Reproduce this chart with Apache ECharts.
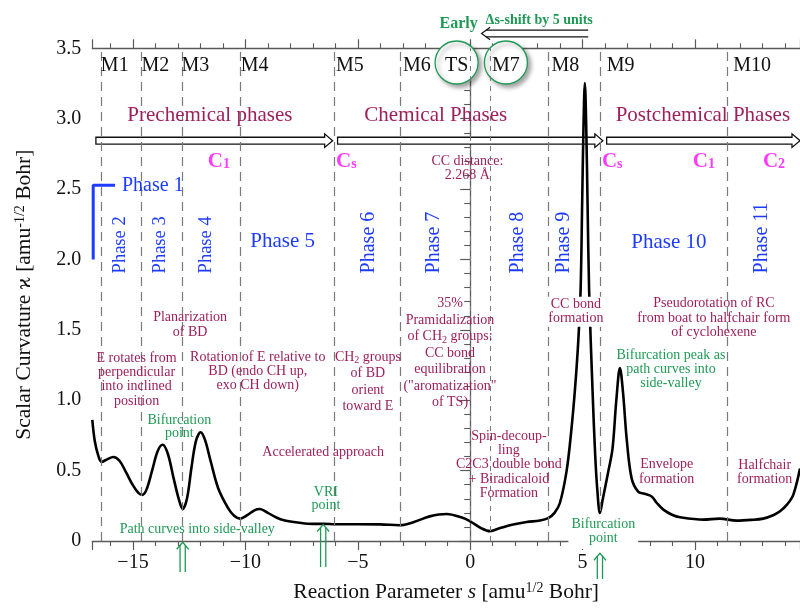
<!DOCTYPE html>
<html>
<head>
<meta charset="utf-8">
<script src="https://cdn.jsdelivr.net/npm/echarts@6/dist/echarts.min.js"></script>
<style>
  html, body { margin: 0; padding: 0; background: #fff; }
  #chart { width: 800px; height: 608px; }
</style>
</head>
<body>
<div id="chart"></div>
<script>
// Scalar curvature along the reaction path
const sValues = [-16.81,-16.70,-16.55,-16.40,-16.15,-15.88,-15.60,-15.30,-15.00,-14.75,
  -14.59,-14.40,-14.15,-13.90,-13.68,-13.45,-13.20,-12.95,-12.79,-12.60,
  -12.40,-12.20,-11.99,-11.80,-11.55,-11.21,-10.77,-10.50,-10.24,-9.90,
  -9.60,-9.36,-9.00,-8.60,-8.24,-7.60,-7.00,-6.50,-6.00,-5.00,
  -4.00,-3.13,-2.50,-1.80,-1.05,-0.40,0.00,0.50,0.88,1.30,
  1.91,2.51,3.10,3.47,3.75,3.99,4.29,4.50,4.66,4.80,
  4.91,4.98,5.04,5.10,5.16,5.22,5.29,5.44,5.56,5.66,
  5.77,5.90,6.14,6.33,6.50,6.66,6.80,6.96,7.18,7.47,
  7.75,8.07,8.30,8.59,9.00,9.33,10.37,11.10,11.85,12.50,
  13.03,13.50,13.78,14.10,14.37,14.67];
const kappaValues = [0.86,0.71,0.61,0.562,0.580,0.597,0.570,0.485,0.395,0.340,
  0.328,0.365,0.500,0.640,0.684,0.620,0.450,0.290,0.227,0.300,
  0.520,0.710,0.773,0.720,0.570,0.375,0.234,0.180,0.159,0.185,
  0.218,0.227,0.200,0.165,0.145,0.130,0.122,0.122,0.119,0.119,
  0.118,0.112,0.135,0.175,0.192,0.168,0.140,0.090,0.070,0.090,
  0.117,0.135,0.145,0.162,0.200,0.270,0.500,0.790,1.077,1.400,
  1.780,2.400,2.950,3.254,2.950,2.400,1.780,1.077,0.609,0.350,
  0.199,0.300,0.492,0.656,1.000,1.229,1.050,0.726,0.445,0.351,
  0.335,0.316,0.270,0.223,0.185,0.169,0.152,0.159,0.145,0.150,
  0.159,0.185,0.211,0.260,0.328,0.515];

// Axis ranges
const sRange = [-16.81, 14.67];
const kappaRange = [0, 3.5];

// Reference points M1..M10 and TS (dashed verticals)
const markerNames = ['M1','M2','M3','M4','M5','M6','TS','M7','M8','M9','M10'];
const markerS = [-16.40,-14.62,-12.79,-10.21,-6.06,-3.13,0.0,0.90,3.49,5.80,11.43];
const markerLabelS = [-16.43,-14.62,-12.84,-10.21,-5.97,-2.99,-0.605,1.588,3.62,6.07,11.70];
const markerLabelKappa = 3.379;
const circledMarkers = ['TS','M7'];
const circleS = [-0.605, 1.588];
const circleKappa = 3.399;

// Main stages: hollow arrows [s start, s end, kappa]
const stageArrows = [[-16.65,-6.12,2.844],[-5.90,5.90,2.844],[6.07,14.67,2.844]];
const stageTitles = [[-11.58,3.025,'Prechemical phases'],[-1.53,3.025,'Chemical Phases'],[10.35,3.025,'Postchemical Phases']];

// Point-group symmetry labels
const symmetryLabels = [[-11.67,2.698,'C{sub|1}'],[-5.97,2.698,'C{sub|s}'],[5.86,2.698,'C{sub|s}'],[9.90,2.698,'C{sub|1}'],[13.02,2.698,'C{sub|2}']];

// Phase labels
const phase1Bracket = [[-15.80,2.528],[-16.77,2.528],[-16.77,2.0]];
const phaseLabelsFlat = [[-15.49,2.526,'Phase 1']];
const phaseLabelsWide = [[-8.34,2.130,'Phase 5'],[8.84,2.122,'Phase 10']];
const phaseLabelsUpSmall = [[-15.59,1.901,'Phase 2'],[-13.80,1.901,'Phase 3'],[-11.76,1.901,'Phase 4']];
const phaseLabelsUp = [[-4.51,1.901,'Phase 6'],[-1.61,1.901,'Phase 7'],[2.12,1.901,'Phase 8'],[4.17,1.901,'Phase 9'],[12.97,1.901,'Phase 11']];

// Mechanism descriptions: [s centre, kappa top, text]
const mechanismNotes = [
  [-12.46,1.638,'Planarization\nof BD'],
  [-14.84,1.350,'E rotates from\nperpendicular\ninto inclined\nposition'],
  [-9.45,1.357,'Rotation of E relative to\nBD (endo CH up,\nexo CH down)'],
  [10.84,1.736,'Pseudorotation of RC\nfrom boat to halfchair form\nof cyclohexene'],
  [-0.125,2.751,'CC distance:\n2.268 Å'],
  [-6.54,0.683,'Accelerated approach'],
  [1.72,0.797,'Spin-decoup-\nling\nC2C3 double bond\n+ Biradicaloid\nFormation'],
  [8.74,0.593,'Envelope\nformation'],
  [13.10,0.588,'Halfchair\nformation']
];
const groupNotes = [
  [-4.55,1.364,'CH{sub|2} groups\nof BD\norient\ntoward E'],
  [-0.90,1.744,'35%\nPramidalization\nof CH{sub|2} groups:\nCC bond\nequilibration\n("aromatization"\nof TS)']
];
const bondNote = [[4.70,1.735,'CC bond\nformation']];

// Path-topology notes
const topologyNotes = [
  [-12.94,0.909,'Bifurcation\npoint'],
  [-6.42,0.398,'VRI\npoint'],
  [-12.14,0.131,'Path curves into side-valley'],
  [8.93,1.365,'Bifurcation peak as\npath curves into\nside-valley']
];
const axisNote = [[5.92,0.173,'Bifurcation\npoint']];
const pointerArrows = [[-12.79,-0.009,-0.22],[-6.54,0.117,-0.185],[5.77,-0.087,-0.27]];

// Early TS note
const shiftArrow = [[5.25,0.507,3.605]];
const earlyLabel = [[-0.516,3.676,'Early']];
const shiftLabel = [[3.07,3.699,'Δs-shift by 5 units']];

const SERIF = "'Liberation Serif', 'Times New Roman', 'DejaVu Serif', serif";
const MAROON = '#9d1f5c';
const GREEN = '#1f9a55';
const BLUE = '#1e3cff';
const MAGENTA = '#ff3cff';
const AXIS = '#5a5a5a';

const chart = echarts.init(document.getElementById('chart'));

function textSeries(items, st) {
  return {
    type: 'custom',
    z: st.z || 6,
    silent: true,
    animation: false,
    clip: false,
    data: items.map(it => [it[0], it[1]]),
    renderItem: function (params, api) {
      const it = items[params.dataIndex];
      const p = api.coord([it[0], it[1]]);
      const style = {
        text: it[2],
        fill: st.color,
        fontSize: st.fontSize,
        fontFamily: SERIF,
        fontWeight: st.fontWeight || 'normal',
        align: st.align || 'center',
        verticalAlign: st.verticalAlign || 'top',
        lineHeight: st.lineHeight || st.fontSize
      };
      if (st.rich) style.rich = st.rich;
      if (st.bg) { style.backgroundColor = st.bg; style.padding = st.padding || [0, 2]; }
      return { type: 'text', x: p[0], y: p[1], rotation: st.rotation || 0, style: style };
    }
  };
}

const subRich = {
  sub: { fontSize: 10, lineHeight: 8, verticalAlign: 'bottom', fontFamily: SERIF, fill: MAROON }
};

const curve = sValues.map((s, i) => [s, kappaValues[i]]);

const markLineData = markerS.map((s, i) => {
  const fine = circledMarkers.indexOf(markerNames[i]) >= 0;
  return {
    xAxis: s,
    lineStyle: fine
      ? { color: '#7a7a7a', width: 1, type: [5, 5] }
      : { color: '#7a7a7a', width: 1.2, type: [9, 6] }
  };
});

const axisCommon = {
  type: 'value',
  min: sRange[0],
  max: sRange[1],
  splitLine: { show: false },
  axisLine: { show: true, onZero: false, lineStyle: { color: AXIS, width: 1.3 } },
  axisTick: { show: true, inside: false, length: 9, lineStyle: { color: AXIS, width: 1.2 } },
  minorTick: { show: true, splitNumber: 5, length: 5, lineStyle: { color: AXIS, width: 1.1 } }
};

const option = {
  animation: false,
  backgroundColor: '#fff',
  grid: { left: 92.3, right: 0, top: 48.3, bottom: 61.3 },
  xAxis: [
    Object.assign({}, axisCommon, {
      position: 'bottom',
      axisLabel: {
        show: true, margin: 12, fontSize: 20, fontFamily: SERIF, color: '#111',
        showMinLabel: false, showMaxLabel: false,
        formatter: v => String(v).replace('-', '\u2212')
      },
      name: 'Reaction Parameter {it|s} [amu{sup|1/2} Bohr]',
      nameLocation: 'middle',
      nameGap: 40,
      nameTextStyle: {
        fontSize: 21.5, fontFamily: SERIF, color: '#111',
        rich: {
          it: { fontSize: 21.5, fontStyle: 'italic', fontFamily: SERIF, color: '#111' },
          sup: { fontSize: 14, lineHeight: 3, verticalAlign: 'top', fontFamily: SERIF, color: '#111' }
        }
      }
    }),
    Object.assign({}, axisCommon, {
      position: 'top',
      axisLabel: { show: false }
    })
  ],
  yAxis: {
    type: 'value',
    min: kappaRange[0],
    max: kappaRange[1],
    interval: 0.5,
    splitLine: { show: false },
    axisLine: { show: true, lineStyle: { color: AXIS, width: 1.3 } },
    axisTick: { show: true, inside: false, length: 10, lineStyle: { color: AXIS, width: 1.2 } },
    minorTick: { show: true, splitNumber: 5, length: 6, lineStyle: { color: AXIS, width: 1.1 } },
    axisLabel: {
      margin: 11, fontSize: 20, fontFamily: SERIF, color: '#111',
      formatter: v => (v === 0 ? '0' : v.toFixed(1))
    },
    name: 'Scalar Curvature ϰ [amu{sup|-1/2} Bohr]',
    nameLocation: 'middle',
    nameRotate: 90,
    nameGap: 57,
    nameTextStyle: {
      fontSize: 21.5, fontFamily: SERIF, color: '#111',
      rich: {
        sup: { fontSize: 14, lineHeight: 3, verticalAlign: 'top', fontFamily: SERIF, color: '#111' }
      }
    }
  },
  series: [
    // shadowed circles around TS and M7
    {
      type: 'custom', z: 1, silent: true, animation: false, clip: false,
      data: circleS.map(s => [s, circleKappa]),
      renderItem: function (params, api) {
        const p = api.coord([api.value(0), api.value(1)]);
        return {
          type: 'circle',
          shape: { cx: p[0], cy: p[1], r: 21.5 },
          style: {
            fill: '#fff', stroke: GREEN, lineWidth: 1.3,
            shadowBlur: 4, shadowOffsetX: 3, shadowOffsetY: 3, shadowColor: 'rgba(0,0,0,0.35)'
          }
        };
      }
    },
    // hollow stage arrows
    {
      type: 'custom', z: 2, silent: true, animation: false, clip: false,
      data: stageArrows,
      renderItem: function (params, api) {
        const a = api.coord([api.value(0), api.value(2)]);
        const b = api.coord([api.value(1), api.value(2)]);
        const y = a[1], h = 3.4, H = 6.8, L = 8;
        return {
          type: 'polygon',
          shape: { points: [[a[0], y - h], [b[0] - L, y - h], [b[0] - L, y - H], [b[0], y],
            [b[0] - L, y + H], [b[0] - L, y + h], [a[0], y + h]] },
          style: { fill: '#fff', stroke: '#111', lineWidth: 1.3 }
        };
      }
    },
    // double-line shift arrow
    {
      type: 'custom', z: 2, silent: true, animation: false, clip: false,
      data: shiftArrow,
      renderItem: function (params, api) {
        const r = api.coord([api.value(0), api.value(2)]);
        const t = api.coord([api.value(1), api.value(2)]);
        const y = r[1], h = 3.3, H = 6.2, L = 8.5;
        const k = L * h / H;
        const st = { stroke: '#111', lineWidth: 1.2, fill: null };
        return {
          type: 'group',
          children: [
            { type: 'polyline', shape: { points: [[r[0], y - h], [t[0] + k, y - h]] }, style: st },
            { type: 'polyline', shape: { points: [[r[0], y + h], [t[0] + k, y + h]] }, style: st },
            { type: 'polyline', shape: { points: [[t[0] + L, y - H], [t[0], y], [t[0] + L, y + H]] }, style: st }
          ]
        };
      }
    },
    // green double up-arrows
    {
      type: 'custom', z: 4, silent: true, animation: false, clip: false,
      data: pointerArrows,
      renderItem: function (params, api) {
        const top = api.coord([api.value(0), api.value(1)]);
        const bot = api.coord([api.value(0), api.value(2)]);
        const x = top[0], w = 2.6, W = 6, L = 7;
        const k = L * w / W;
        const st = { stroke: GREEN, lineWidth: 1.3, fill: null };
        return {
          type: 'group',
          children: [
            { type: 'polyline', shape: { points: [[x - w, bot[1]], [x - w, top[1] + k]] }, style: st },
            { type: 'polyline', shape: { points: [[x + w, bot[1]], [x + w, top[1] + k]] }, style: st },
            { type: 'polyline', shape: { points: [[x - W, top[1] + L], [x, top[1]], [x + W, top[1] + L]] }, style: st }
          ]
        };
      }
    },
    // curvature curve with reference-point markers
    {
      type: 'line', z: 3, data: curve, smooth: 0.35, symbol: 'none', silent: true,
      lineStyle: { color: '#000', width: 2.6 },
      markLine: {
        silent: true, symbol: ['none', 'none'], animation: false,
        label: { show: false },
        data: markLineData
      }
    },
    // Phase 1 bracket
    {
      type: 'line', z: 3, data: phase1Bracket, symbol: 'none', silent: true,
      lineStyle: { color: BLUE, width: 3 }
    },
    // marker names
    {
      type: 'custom', z: 6, silent: true, animation: false, clip: false,
      data: markerLabelS.map(s => [s, markerLabelKappa]),
      renderItem: function (params, api) {
        const name = markerNames[params.dataIndex];
        const p = api.coord([api.value(0), api.value(1)]);
        const centred = circledMarkers.indexOf(name) >= 0;
        return {
          type: 'text', x: p[0], y: p[1],
          style: { text: name, fill: '#111', fontSize: 20, fontFamily: SERIF,
            align: centred ? 'center' : 'left', verticalAlign: 'middle' }
        };
      }
    },
    textSeries(stageTitles, { color: MAROON, fontSize: 21, verticalAlign: 'middle' }),
    textSeries(symmetryLabels, {
      color: MAGENTA, fontSize: 21, fontWeight: 'bold', align: 'left', verticalAlign: 'middle', lineHeight: 21,
      rich: { sub: { fontSize: 14, fontWeight: 'bold', lineHeight: 13, verticalAlign: 'bottom', fontFamily: SERIF, fill: MAGENTA } }
    }),
    textSeries(phaseLabelsFlat, { color: BLUE, fontSize: 20, align: 'left', verticalAlign: 'middle' }),
    textSeries(phaseLabelsWide, { color: BLUE, fontSize: 21, verticalAlign: 'middle' }),
    textSeries(phaseLabelsUpSmall, { color: BLUE, fontSize: 18.5, align: 'left', verticalAlign: 'middle', rotation: Math.PI / 2 }),
    textSeries(phaseLabelsUp, { color: BLUE, fontSize: 20, align: 'left', verticalAlign: 'middle', rotation: Math.PI / 2 }),
    textSeries(mechanismNotes, { color: MAROON, fontSize: 14, lineHeight: 14.3 }),
    textSeries(groupNotes, { color: MAROON, fontSize: 14, lineHeight: 16.5, rich: subRich }),
    textSeries(bondNote, { color: MAROON, fontSize: 14, lineHeight: 14, bg: '#fff', padding: [1, 2] }),
    textSeries(topologyNotes, { color: GREEN, fontSize: 14, lineHeight: 13.8 }),
    textSeries(axisNote, { color: GREEN, fontSize: 14, lineHeight: 14.7, bg: '#fff', padding: [0, 3, 3, 3] }),
    textSeries(earlyLabel, { color: GREEN, fontSize: 16, fontWeight: 'bold', verticalAlign: 'middle' }),
    textSeries(shiftLabel, { color: GREEN, fontSize: 14, fontWeight: 'bold', verticalAlign: 'middle' })
  ]
};

chart.setOption(option);
</script>
</body>
</html>
